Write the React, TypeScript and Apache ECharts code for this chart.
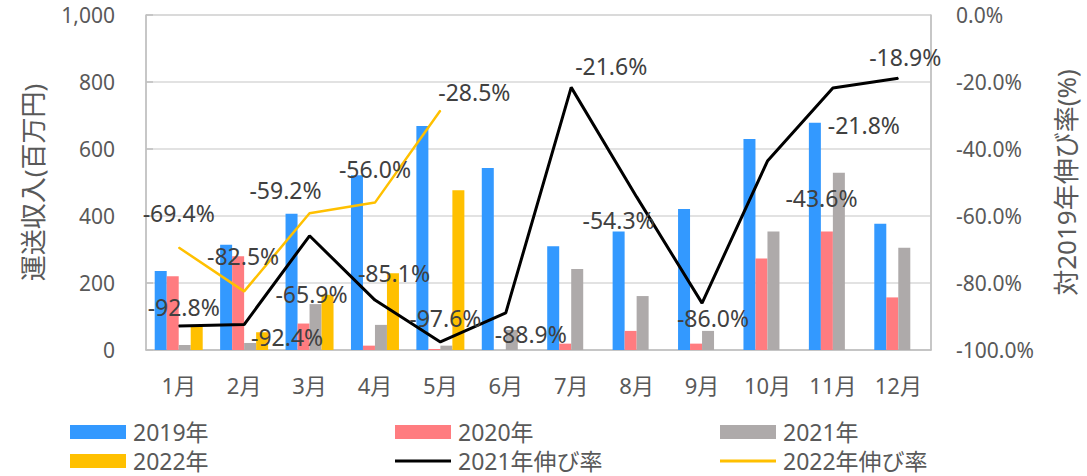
import React, { useEffect, useRef } from "react";
import * as echarts from "echarts";

const months = ["1月", "2月", "3月", "4月", "5月", "6月", "7月", "8月", "9月", "10月", "11月", "12月"];
const rev2019 = [236, 314, 407, 522, 669, 543, 310, 354, 421, 630, 678, 377];
const rev2020 = [220, 280, 79, 13, 3, 0, 19, 57, 19, 273, 354, 157];
const rev2021 = [15, 21, 137, 75, 13, 60, 242, 161, 57, 354, 529, 305];
const rev2022 = [70, 53, 165, 229, 477, null, null, null, null, null, null, null];
const rate2021 = [-92.8, -92.4, -65.9, -85.1, -97.6, -88.9, -21.6, -54.3, -86.0, -43.6, -21.8, -18.9];
const rate2022 = [-69.4, -82.5, -59.2, -56.0, -28.5, null, null, null, null, null, null, null];

// label placement (style only): offsets of label centre from the point
const offsets2021 = [[5, -19], [43, 12], [2, 58], [19, -27], [5, -24], [25, 21], [40, -21], [-18, 23], [11, 15], [54, 37], [31, 37], [7, -21]];
const offsets2022 = [[0, -34], [-1, -35], [-24, -23], [0, -34], [34, -18]];

const FONT = "'Noto Sans', 'Noto Sans CJK JP', sans-serif";
const TEXT = "#595959";

export default function App() {
  const ref = useRef<HTMLDivElement>(null);
  useEffect(() => {
    if (!ref.current) return;
    const chart = echarts.init(ref.current, undefined, { renderer: "svg" });
    const fmtPct = (v: number) => v.toFixed(1) + "%";
    const lineData = (vals: (number | null)[], offs: number[][]) =>
      vals.map((v, i) =>
        v === null
          ? null
          : {
              value: v,
              label: { offset: offs[i] || [0, -20] },
            }
      );
    const legendItem = (name: string, left: number, top: number, isLine: boolean) => ({
      left,
      top,
      itemWidth: 56,
      itemHeight: isLine ? 3 : 14,
      icon: "rect",
      padding: 0,
      data: [{ name, icon: "rect" }],
      textStyle: { fontSize: 23, lineHeight: 24, color: TEXT, fontFamily: FONT, padding: [0, 0, 0, 2] },
    });
    chart.setOption({
      animation: false,
      textStyle: { fontFamily: FONT },
      grid: {
        left: 146,
        right: 152,
        top: 15,
        bottom: 126,
        show: true,
        borderColor: "#bfbfbf",
        borderWidth: 1,
      },
      legend: [
        legendItem("2019年", 70, 420, false),
        legendItem("2020年", 395, 420, false),
        legendItem("2021年", 720, 420, false),
        legendItem("2022年", 70, 449, false),
        legendItem("2021年伸び率", 395, 449, true),
        legendItem("2022年伸び率", 720, 449, true),
      ],
      xAxis: {
        type: "category",
        data: months,
        axisLine: { show: true, lineStyle: { color: "#bfbfbf", width: 1.5 } },
        axisTick: { show: false },
        axisLabel: { fontSize: 22, color: TEXT, margin: 24, fontFamily: FONT },
      },
      yAxis: [
        {
          type: "value",
          min: 0,
          max: 1000,
          interval: 200,
          name: "運送収入(百万円)",
          nameLocation: "middle",
          nameGap: 100,
          nameRotate: 90,
          nameTextStyle: { fontSize: 26, color: TEXT, fontFamily: FONT },
          axisLine: { show: true, lineStyle: { color: "#bfbfbf", width: 1.5 } },
          axisTick: { show: true, inside: true, length: 7, lineStyle: { color: "#bfbfbf", width: 1.5 } },
          splitLine: { show: true, lineStyle: { color: "#d9d9d9", width: 1.5 } },
          axisLabel: {
            fontSize: 21,
            color: TEXT,
            margin: 31,
            fontFamily: FONT,
            formatter: (v: number) => v.toLocaleString("en-US"),
          },
        },
        {
          type: "value",
          min: -100,
          max: 0,
          interval: 20,
          name: "対2019年伸び率(%)",
          nameLocation: "middle",
          nameGap: 122,
          nameRotate: 90,
          nameTextStyle: { fontSize: 26, color: TEXT, fontFamily: FONT },
          axisLine: { show: true, lineStyle: { color: "#bfbfbf", width: 1.5 } },
          axisTick: { show: false },
          splitLine: { show: false },
          axisLabel: {
            fontSize: 21,
            color: TEXT,
            margin: 25,
            fontFamily: FONT,
            formatter: (v: number) => v.toFixed(1) + "%",
          },
        },
      ],
      series: [
        { name: "2019年", type: "bar", data: rev2019, barWidth: 12, barGap: "0%", itemStyle: { color: "#3399ff" } },
        { name: "2020年", type: "bar", data: rev2020, barWidth: 12, barGap: "0%", itemStyle: { color: "#ff7c80" } },
        { name: "2021年", type: "bar", data: rev2021, barWidth: 12, barGap: "0%", itemStyle: { color: "#aeaaaa" } },
        { name: "2022年", type: "bar", data: rev2022, barWidth: 12, barGap: "0%", itemStyle: { color: "#ffc000" } },
        {
          name: "2021年伸び率",
          type: "line",
          yAxisIndex: 1,
          data: lineData(rate2021, offsets2021),
          symbol: "circle",
          symbolSize: 1,
          showSymbol: true,
          lineStyle: { color: "#000000", width: 3 },
          itemStyle: { color: "#000000" },
          label: {
            show: true,
            position: "inside",
            fontSize: 23,
            color: "#404040",
            fontFamily: FONT,
            formatter: (p: any) => fmtPct(p.value),
          },
          z: 5,
        },
        {
          name: "2022年伸び率",
          type: "line",
          yAxisIndex: 1,
          data: lineData(rate2022, offsets2022),
          symbol: "circle",
          symbolSize: 1,
          showSymbol: true,
          lineStyle: { color: "#ffc000", width: 2.5 },
          itemStyle: { color: "#ffc000" },
          label: {
            show: true,
            position: "inside",
            fontSize: 23,
            color: "#404040",
            fontFamily: FONT,
            formatter: (p: any) => fmtPct(p.value),
          },
          z: 5,
        },
      ],
    });
    return () => chart.dispose();
  }, []);
  return (
    <div
      ref={ref}
      style={{ position: "absolute", left: 0, top: 0, width: 1087, height: 476, background: "#ffffff" }}
    />
  );
}
